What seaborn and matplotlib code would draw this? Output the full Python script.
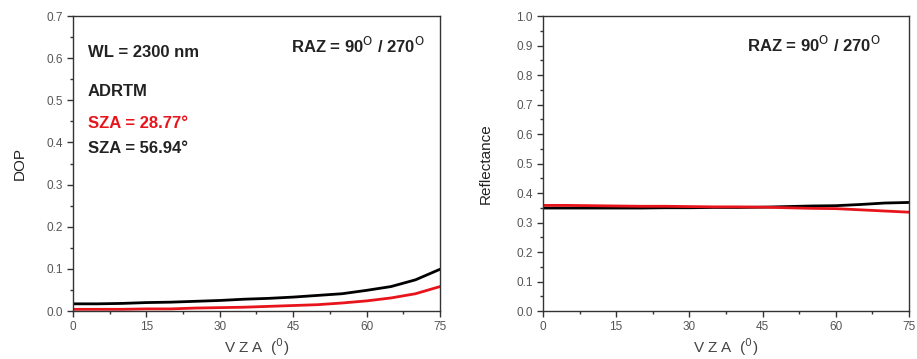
import numpy as np
import pandas as pd
import matplotlib
matplotlib.use("Agg")
import matplotlib.pyplot as plt
import seaborn as sns
from matplotlib.ticker import MultipleLocator

sns.set_theme(style="ticks")
plt.rcParams['font.family'] = ['Liberation Sans', 'DejaVu Sans']

vza = [0, 5, 10, 15, 20, 25, 30, 35, 40, 45, 50, 55, 60, 65, 70, 75]
dop_sza_2877 = [0.004, 0.004, 0.004, 0.005, 0.005, 0.007, 0.008, 0.009, 0.011, 0.013,
                0.015, 0.019, 0.024, 0.031, 0.041, 0.058]
dop_sza_5694 = [0.017, 0.017, 0.018, 0.020, 0.021, 0.023, 0.025, 0.028, 0.030, 0.033,
                0.037, 0.041, 0.049, 0.058, 0.074, 0.099]
refl_sza_2877 = [0.358, 0.358, 0.357, 0.356, 0.355, 0.355, 0.354, 0.353, 0.353, 0.352,
                 0.350, 0.348, 0.347, 0.343, 0.339, 0.335]
refl_sza_5694 = [0.349, 0.349, 0.349, 0.349, 0.349, 0.350, 0.350, 0.351, 0.351, 0.352,
                 0.354, 0.356, 0.357, 0.361, 0.366, 0.368]
series_labels = ["SZA = 28.77°", "SZA = 56.94°"]
colors = {"SZA = 28.77°": "#e8141b", "SZA = 56.94°": "black"}

df = pd.DataFrame({
    "VZA": vza * 2,
    "DOP": dop_sza_2877 + dop_sza_5694,
    "Reflectance": refl_sza_2877 + refl_sza_5694,
    "SZA": [series_labels[0]] * len(vza) + [series_labels[1]] * len(vza),
})

fig = plt.figure(figsize=(9.17, 3.59), dpi=100)
ax1 = fig.add_axes([0.0796, 0.1337, 0.4002, 0.8217])
ax2 = fig.add_axes([0.5921, 0.1337, 0.3991, 0.8217])

sns.lineplot(data=df, x="VZA", y="DOP", hue="SZA", palette=colors, ax=ax1,
             linewidth=2.0, legend=False, hue_order=series_labels[::-1])
sns.lineplot(data=df, x="VZA", y="Reflectance", hue="SZA", palette=colors, ax=ax2,
             linewidth=2.0, legend=False, hue_order=series_labels[::-1])

tick_color = "#555555"
for ax, ymax, ystep in [(ax1, 0.7, 0.1), (ax2, 1.0, 0.1)]:
    ax.set_xlim(0, 75)
    ax.set_ylim(0, ymax)
    ax.xaxis.set_major_locator(MultipleLocator(15))
    ax.xaxis.set_minor_locator(MultipleLocator(7.5))
    ax.yaxis.set_major_locator(MultipleLocator(ystep))
    ax.yaxis.set_minor_locator(MultipleLocator(ystep / 2))
    ax.tick_params(which="major", direction="out", length=4, width=1, colors="#333333",
                   labelsize=8.5, labelcolor=tick_color, top=False, right=False)
    ax.tick_params(which="minor", direction="out", length=2.5, width=1, colors="#333333",
                   top=False, right=False)
    ax.xaxis.set_major_formatter(matplotlib.ticker.FormatStrFormatter('%d'))
    ax.yaxis.set_major_formatter(matplotlib.ticker.FormatStrFormatter('%.1f'))
    for s in ax.spines.values():
        s.set_visible(True)
        s.set_linewidth(1.0)
        s.set_color("#333333")
    ax.set_xlabel("V Z A  ($^{0}$)", fontsize=11, color="#444444", labelpad=2)

ax1.set_ylabel("DOP", fontsize=11, color="#222222", labelpad=14)
ax2.set_ylabel("Reflectance", fontsize=11, color="#222222", labelpad=17)

fs = 12
tkw = dict(fontsize=fs, fontweight="semibold", color="#222222", va="baseline")
ax1.text(0.04, 0.861, "WL = 2300 nm", transform=ax1.transAxes, ha="left", **tkw)
ax1.text(0.04, 0.729, "ADRTM", transform=ax1.transAxes, ha="left", **tkw)
ax1.text(0.04, 0.620, "SZA = 28.77°", transform=ax1.transAxes, ha="left",
         fontsize=fs, fontweight="semibold", color="#e8141b", va="baseline")
ax1.text(0.04, 0.536, "SZA = 56.94°", transform=ax1.transAxes, ha="left", **tkw)
raz = "RAZ = 90$^{\\mathrm{O}}$ / 270$^{\\mathrm{O}}$"
ax1.text(0.959, 0.874, raz, transform=ax1.transAxes, ha="right", **tkw)
ax2.text(0.923, 0.878, raz, transform=ax2.transAxes, ha="right", **tkw)

fig.savefig("out.png", dpi=100)
